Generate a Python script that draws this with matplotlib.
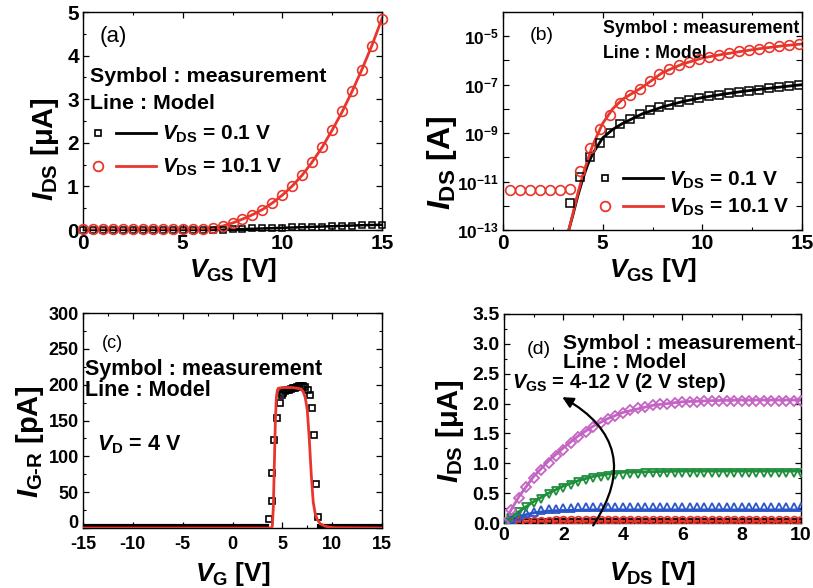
import matplotlib
matplotlib.use("Agg")
import matplotlib.pyplot as plt
import numpy as np
from matplotlib.lines import Line2D
from matplotlib.legend_handler import HandlerBase
from matplotlib.ticker import (MultipleLocator, FixedLocator, NullFormatter,
                               FormatStrFormatter)

plt.rcParams["font.family"] = ["Liberation Sans", "DejaVu Sans"]
plt.rcParams["font.weight"] = "bold"
plt.rcParams["axes.unicode_minus"] = False
plt.rcParams["mathtext.fontset"] = "custom"
plt.rcParams["mathtext.rm"] = "Liberation Sans:bold"
plt.rcParams["mathtext.it"] = "Liberation Sans:bold:italic"
plt.rcParams["mathtext.bf"] = "Liberation Sans:bold"

RED = "#e8362c"
BLUE = "#2b55c8"
GREEN = "#1f8f3c"
MAGENTA = "#c463c4"

# ---- (a) transfer curves, linear scale [uA] ----
vgs_a = [0, 0.5, 1, 1.5, 2, 2.5, 3, 3.5, 4, 4.5, 5, 5.5, 6, 6.5, 7, 7.5, 8,
         8.5, 9, 9.5, 10, 10.5, 11, 11.5, 12, 12.5, 13, 13.5, 14, 14.5, 15]
ids_a_hi_meas = [0.02, 0.02, 0.02, 0.02, 0.02, 0.02, 0.02, 0.02, 0.02, 0.02,
                 0.02, 0.02, 0.03, 0.05, 0.1, 0.17, 0.25, 0.35, 0.46, 0.61,
                 0.81, 1.02, 1.27, 1.57, 1.91, 2.3, 2.72, 3.18, 3.68, 4.23, 4.84]
ids_a_lo_meas = [0.0, 0.0, 0.0, 0.0, 0.0, 0.0, 0.0, 0.0, 0.0, 0.0, 0.0, 0.0,
                 0.0, 0.0, 0.01, 0.02, 0.03, 0.035, 0.04, 0.045, 0.05, 0.058,
                 0.065, 0.072, 0.08, 0.087, 0.093, 0.1, 0.107, 0.114, 0.12]
vgs_a_hi_model = [0, 6, 6.5, 7, 7.5, 8, 8.5, 9, 9.5, 10, 10.5, 11, 11.5, 12,
                  12.5, 13, 13.5, 14, 14.5, 15]
ids_a_hi_model = [0.0, 0.01, 0.04, 0.09, 0.16, 0.25, 0.35, 0.47, 0.62, 0.80,
                  1.01, 1.26, 1.56, 1.9, 2.29, 2.71, 3.18, 3.69, 4.24, 4.85]
vgs_a_lo_model = [0, 6.5, 7, 8, 9, 10, 11, 12, 13, 14, 15]
ids_a_lo_model = [0, 0.0, 0.005, 0.02, 0.035, 0.05, 0.065, 0.08, 0.095, 0.11, 0.12]

# ---- (b) transfer curves, log scale (log10 of I_DS in A) ----
vgs_b_hi = [0.35, 0.85, 1.35, 1.85, 2.35, 2.85, 3.35, 3.85, 4.35, 4.85, 5.35,
            5.85, 6.35, 6.85, 7.35, 7.85, 8.35, 8.85, 9.35, 9.85, 10.35,
            10.85, 11.35, 11.85, 12.35, 12.85, 13.35, 13.85, 14.35, 14.85]
log_ids_b_hi = [-11.34, -11.34, -11.34, -11.34, -11.34, -11.34, -11.3, -10.56,
                -9.62, -8.83, -8.24, -7.76, -7.44, -7.17, -6.85, -6.55, -6.35,
                -6.2, -6.05, -5.93, -5.85, -5.77, -5.7, -5.63, -5.57, -5.51,
                -5.46, -5.41, -5.37, -5.33]
vgs_b_lo = [3.35, 3.85, 4.35, 4.85, 5.35, 5.85, 6.35, 6.85, 7.35, 7.85, 8.35,
            8.85, 9.35, 9.85, 10.35, 10.85, 11.35, 11.85, 12.35, 12.85, 13.35,
            13.85, 14.35, 14.85]
log_ids_b_lo = [-11.9, -10.8, -9.97, -9.4, -9.0, -8.63, -8.4, -8.2, -8.05,
                -7.92, -7.82, -7.72, -7.63, -7.55, -7.48, -7.42, -7.36, -7.3,
                -7.25, -7.2, -7.15, -7.1, -7.06, -7.02]
vgs_b_model = [3.3, 3.5, 3.75, 4.0, 4.25, 4.5, 5.0, 5.5, 6.0, 7, 8, 9, 10, 11,
               12, 13, 14, 15]
log_ids_b_lo_model = [-13, -12.4, -11.6, -10.9, -10.3, -9.85, -9.2, -8.85,
                      -8.6, -8.2, -7.92, -7.7, -7.53, -7.4, -7.28, -7.18,
                      -7.09, -7.0]
log_ids_b_hi_model = [-13, -12.35, -11.5, -10.75, -10.1, -9.5, -8.6, -8.0,
                      -7.6, -7.1, -6.5, -6.15, -5.9, -5.75, -5.62, -5.5,
                      -5.4, -5.32]
b_tick_exp = [-13, -11, -9, -7, -5]

# ---- (c) G-R current [pA] ----
vg_c_base1 = [-15, -10, -5, 0, 3.5]
igr_c_base1 = [2.5, 2.5, 2.5, 2.5, 2.5]
vg_c_base2 = [8.7, 10, 15]
igr_c_base2 = [2.5, 2.5, 2.5]
vg_c_meas = [3.69, 3.92, 3.99, 4.19, 4.49, 4.76, 4.93, 5.1, 5.3, 5.5, 5.7,
             5.9, 6.1, 6.3, 6.5, 6.7, 6.9, 7.1, 7.3, 7.6, 7.77, 7.94, 8.17,
             8.37, 8.6]
igr_c_meas = [12, 38, 77, 123, 154, 174, 185, 189, 191, 192, 193, 194, 195,
              196, 197, 198, 198, 198, 197, 192, 185, 168, 130, 61, 16]
vg_c_model = [-15, 3.9, 4.0, 4.1, 4.2, 4.3, 4.4, 4.5, 4.6, 5.0, 6.0, 6.9,
              7.1, 7.3, 7.5, 7.7, 7.9, 8.1, 8.3, 8.5, 8.8, 9.2, 9.6, 10.2, 15]
igr_c_model = [0, 0, 3, 30, 90, 150, 182, 192, 195, 196, 196, 194, 190, 182,
               165, 125, 75, 36, 20, 12, 6, 3, 1.5, 0.5, 0]

# ---- (d) output curves [uA], VGS = 4..12 V ----
vds_d = [0, 0.25, 0.5, 0.75, 1, 1.25, 1.5, 1.75, 2, 2.25, 2.5, 2.75, 3, 3.25,
         3.5, 3.75, 4, 4.25, 4.5, 4.75, 5, 5.25, 5.5, 5.75, 6, 6.25, 6.5,
         6.75, 7, 7.25, 7.5, 7.75, 8, 8.25, 8.5, 8.75, 9, 9.25, 9.5, 9.75, 10]
ids_d_4 = [0.0, 0.0, 0.0, 0.0, 0.0, 0.0, 0.0, 0.0, 0.0, 0.0, 0.0, 0.0, 0.0,
           0.0, 0.0, 0.0, 0.0, 0.0, 0.0, 0.0, 0.0, 0.0, 0.0, 0.0, 0.0, 0.0,
           0.0, 0.0, 0.0, 0.0, 0.0, 0.0, 0.0, 0.0, 0.0, 0.0, 0.0, 0.0, 0.0,
           0.0, 0.0]
ids_d_6 = [0.0, 0.02, 0.03, 0.035, 0.04, 0.04, 0.04, 0.042, 0.042, 0.043,
           0.043, 0.044, 0.044, 0.044, 0.045, 0.045, 0.045, 0.045, 0.045,
           0.045, 0.045, 0.045, 0.045, 0.045, 0.045, 0.045, 0.045, 0.045,
           0.045, 0.045, 0.045, 0.045, 0.045, 0.045, 0.045, 0.045, 0.045,
           0.045, 0.045, 0.045, 0.045]
ids_d_8 = [0.0, 0.07, 0.12, 0.16, 0.19, 0.21, 0.23, 0.24, 0.25, 0.25, 0.26,
           0.26, 0.26, 0.26, 0.26, 0.26, 0.26, 0.26, 0.26, 0.26, 0.26, 0.26,
           0.26, 0.26, 0.26, 0.26, 0.26, 0.26, 0.26, 0.26, 0.26, 0.26, 0.26,
           0.26, 0.26, 0.26, 0.26, 0.26, 0.26, 0.26, 0.26]
ids_d_10 = [0.0, 0.09, 0.18, 0.26, 0.34, 0.41, 0.48, 0.54, 0.59, 0.64, 0.68,
            0.72, 0.75, 0.77, 0.79, 0.8, 0.81, 0.82, 0.82, 0.83, 0.83, 0.83,
            0.83, 0.83, 0.83, 0.83, 0.83, 0.83, 0.83, 0.83, 0.83, 0.83, 0.83,
            0.83, 0.83, 0.83, 0.83, 0.83, 0.83, 0.83, 0.83]
ids_d_12 = [0.0, 0.22, 0.42, 0.6, 0.75, 0.88, 1.0, 1.12, 1.23, 1.34, 1.44,
            1.53, 1.61, 1.68, 1.74, 1.8, 1.85, 1.89, 1.92, 1.95, 1.97, 1.99,
            2.0, 2.01, 2.02, 2.03, 2.03, 2.04, 2.04, 2.04, 2.05, 2.05, 2.05,
            2.05, 2.05, 2.05, 2.05, 2.05, 2.05, 2.05, 2.05]
vds_d_model = [0, 0.25, 0.5, 1, 1.5, 2, 2.5, 3, 3.5, 4, 5, 6, 7, 8, 10]
ids_d_4_model = [0, 0, 0, 0, 0, 0, 0, 0, 0, 0, 0, 0, 0, 0, 0]
ids_d_6_model = [0, 0.012, 0.02, 0.027, 0.029, 0.03, 0.03, 0.03, 0.03, 0.03,
                 0.03, 0.03, 0.03, 0.03, 0.03]
ids_d_8_model = [0, 0.06, 0.11, 0.17, 0.2, 0.21, 0.215, 0.22, 0.22, 0.22,
                 0.22, 0.22, 0.22, 0.22, 0.22]
ids_d_10_model = [0, 0.1, 0.19, 0.36, 0.5, 0.62, 0.71, 0.78, 0.82, 0.85,
                  0.86, 0.87, 0.87, 0.87, 0.87]
ids_d_12_model = [0, 0.23, 0.44, 0.78, 1.04, 1.26, 1.46, 1.62, 1.75, 1.85,
                  1.97, 2.03, 2.05, 2.06, 2.06]


class MarkerThenLine(HandlerBase):
    """Legend key: open symbol, gap, then model line."""
    def create_artists(self, legend, orig_handle, xdescent, ydescent,
                       width, height, fontsize, trans):
        mk, ln = orig_handle
        y = height / 2 - ydescent
        m = Line2D([-xdescent + 0.08 * width], [y], ls="none",
                   marker=mk.get_marker(), ms=mk.get_markersize(),
                   mfc="none", mec=mk.get_markeredgecolor(),
                   mew=mk.get_markeredgewidth())
        l = Line2D([-xdescent + 0.36 * width, -xdescent + width], [y, y],
                   color=ln.get_color(), lw=ln.get_linewidth())
        m.set_transform(trans)
        l.set_transform(trans)
        return [m, l]


def px_axes(fig, left, top, right, bottom):
    W, H = 813, 588
    return fig.add_axes([left / W, 1 - bottom / H, (right - left) / W,
                         (bottom - top) / H])


def style(ax, fs=14, xlab=None, ylab=None, xpos=-0.18, ypos=(-0.13, 0.4),
          yfs=21):
    ax.tick_params(which="both", direction="in", top=True, right=True,
                   labelsize=fs, pad=3)
    ax.tick_params(which="major", length=4, width=0.9)
    ax.tick_params(which="minor", length=2.5, width=0.8)
    for s in ax.spines.values():
        s.set_linewidth(1.0)
    ax.set_xlabel(xlab, fontsize=19, fontweight="bold")
    ax.set_ylabel(ylab, fontsize=yfs, fontweight="bold")
    ax.xaxis.set_label_coords(0.5, xpos)
    ax.yaxis.set_label_coords(*ypos)
    ax.xaxis.label.set_verticalalignment("center")
    ax.yaxis.label.set_verticalalignment("center")


def bold_ticks(ax):
    for axis in (ax.xaxis, ax.yaxis):
        for t in axis.get_major_ticks():
            t.label1.set_fontweight("heavy")
            t.label1.set_fontfamily("Liberation Sans")


def add_legend(ax, anchor, spacing, fs):
    sq = Line2D([], [], ls="none", marker="s", ms=5, mec="k", mew=1.2)
    ci = Line2D([], [], ls="none", marker="o", ms=7, mec=RED, mew=1.3)
    lk = Line2D([], [], color="k", lw=2)
    lr = Line2D([], [], color=RED, lw=2)
    ax.legend([(sq, lk), (ci, lr)],
              [r"$V_{\rm DS}$ = 0.1 V", r"$V_{\rm DS}$ = 10.1 V"],
              handler_map={tuple: MarkerThenLine()}, loc="center left",
              bbox_to_anchor=anchor, frameon=False, fontsize=fs,
              handlelength=3.0, handletextpad=0.3, labelspacing=spacing,
              borderpad=0, borderaxespad=0)


def txt(ax, x, y, s, fs, weight="bold"):
    ax.text(x, y, s, transform=ax.transAxes, fontsize=fs, fontweight=weight,
            va="center", ha="left")


fig = plt.figure(figsize=(8.13, 5.88), dpi=100)

# (a)
ax = px_axes(fig, 83, 12, 382, 230)
ax.plot(vgs_a, ids_a_lo_meas, ls="none", marker="s", ms=5, mfc="none",
        mec="k", mew=1.1, clip_on=False, zorder=3)
ax.plot(vgs_a_lo_model, ids_a_lo_model, color="k", lw=1.8, zorder=2)
ax.plot(vgs_a, ids_a_hi_meas, ls="none", marker="o", ms=7, mfc="none",
        mec=RED, mew=1.2, clip_on=False, zorder=3)
ax.plot(vgs_a_hi_model, ids_a_hi_model, color=RED, lw=2, zorder=2)
ax.set_xlim(0, 15)
ax.set_ylim(0, 5)
ax.xaxis.set_major_locator(MultipleLocator(5))
ax.xaxis.set_minor_locator(MultipleLocator(2.5))
ax.yaxis.set_major_locator(MultipleLocator(1))
ax.yaxis.set_minor_locator(MultipleLocator(0.5))
style(ax, 15, r"$V_{\rm GS}$ [V]", r"$I_{\rm DS}$ [μA]",
      xpos=-0.183, ypos=(-0.127, 0.37))
bold_ticks(ax)
txt(ax, 0.057, 0.887, "(a)", 16, "normal")
txt(ax, 0.023, 0.703, "Symbol : measurement", 15.4)
txt(ax, 0.023, 0.581, "Line : Model", 15.4)
add_legend(ax, (0.035, 0.362), 0.55, 15)

# (b)
ax = px_axes(fig, 503, 12, 802, 230)
ax.plot(vgs_b_lo, 10.0 ** np.array(log_ids_b_lo), ls="none", marker="s",
        ms=6, mfc="none", mec="k", mew=1.1, zorder=3)
ax.plot(vgs_b_model, 10.0 ** np.array(log_ids_b_lo_model), color="k", lw=2,
        zorder=2)
ax.plot(vgs_b_hi, 10.0 ** np.array(log_ids_b_hi), ls="none", marker="o",
        ms=7, mfc="none", mec=RED, mew=1.2, zorder=3)
ax.plot(vgs_b_model, 10.0 ** np.array(log_ids_b_hi_model), color=RED, lw=2,
        zorder=2)
ax.set_yscale("log")
ax.set_xlim(0, 15)
ax.set_ylim(1e-13, 1e-4)
ax.xaxis.set_major_locator(MultipleLocator(5))
ax.xaxis.set_minor_locator(MultipleLocator(2.5))
ax.yaxis.set_major_locator(FixedLocator([10.0 ** e for e in b_tick_exp]))
ax.yaxis.set_minor_locator(FixedLocator([1e-12, 1e-10, 1e-8, 1e-6, 1e-4]))
ax.yaxis.set_minor_formatter(NullFormatter())
ax.set_yticklabels([r"$\mathbf{10^{%d}}$" % e for e in b_tick_exp])
style(ax, 15, r"$V_{\rm GS}$ [V]", r"$I_{\rm DS}$ [A]",
      xpos=-0.183, ypos=(-0.204, 0.31), yfs=23)
bold_ticks(ax)
ax.tick_params(axis="y", labelsize=12.5)
ax.tick_params(axis="y", which="minor", length=4)
txt(ax, 0.09, 0.894, "(b)", 14, "normal")
txt(ax, 0.334, 0.925, "Symbol : measurement", 12.8)
txt(ax, 0.334, 0.81, "Line : Model", 12.8)
add_legend(ax, (0.325, 0.165), 0.3, 15)

# (c)
ax_c = ax = px_axes(fig, 83, 313, 382, 528)
ax.plot(vg_c_base1, igr_c_base1, color="k", lw=3, zorder=2)
ax.plot(vg_c_base2, igr_c_base2, color="k", lw=3, zorder=2)
ax.plot(vg_c_meas, igr_c_meas, ls="none", marker="s", ms=5, mfc="none",
        mec="k", mew=1.2, zorder=3)
ax.plot(vg_c_model, igr_c_model, color=RED, lw=2, zorder=4)
ax.set_xlim(-15, 15)
ax.set_ylim(0, 300)
ax.xaxis.set_major_locator(MultipleLocator(5))
ax.xaxis.set_minor_locator(MultipleLocator(2.5))
ax.yaxis.set_major_locator(MultipleLocator(50))
ax.yaxis.set_minor_locator(MultipleLocator(25))
style(ax, 13, r"$V_{\rm G}$ [V]", r"$I_{\rm G\text{-}R}$ [pA]",
      xpos=-0.212, ypos=(-0.177, 0.4))
bold_ticks(ax)
ax.tick_params(axis="x", pad=6)
txt(ax, 0.063, 0.859, "(c)", 13, "normal")
txt(ax, 0.008, 0.735, "Symbol : measurement", 15.5)
txt(ax, 0.008, 0.638, "Line : Model", 15.5)
txt(ax, 0.046, 0.386, r"$V_{\rm D}$ = 4 V", 15.5)

# (d)
ax = px_axes(fig, 504, 314, 801, 523)
series = [(ids_d_4, ids_d_4_model, "k", "s", 5.5),
          (ids_d_6, ids_d_6_model, RED, "o", 5.5),
          (ids_d_8, ids_d_8_model, BLUE, "^", 6),
          (ids_d_10, ids_d_10_model, GREEN, "v", 6),
          (ids_d_12, ids_d_12_model, MAGENTA, "D", 5.2)]
for meas, model, col, mk, size in series:
    ax.plot(vds_d_model, model, color=col, lw=2, zorder=2)
    ax.plot(vds_d, meas, ls="none", marker=mk, ms=size, mfc="none",
            mec=col, mew=1.3, zorder=3)
ax.set_xlim(0, 10)
ax.set_ylim(0, 3.5)
ax.xaxis.set_major_locator(MultipleLocator(2))
ax.xaxis.set_minor_locator(MultipleLocator(1))
ax.yaxis.set_major_locator(MultipleLocator(0.5))
ax.yaxis.set_minor_locator(MultipleLocator(0.25))
ax.yaxis.set_major_formatter(FormatStrFormatter("%.1f"))
style(ax, 14, r"$V_{\rm DS}$ [V]", r"$I_{\rm DS}$ [μA]",
      xpos=-0.239, ypos=(-0.182, 0.44))
bold_ticks(ax)
ax.annotate("", xy=(1.88, 2.13), xytext=(2.95, -0.08),
            arrowprops=dict(arrowstyle="-|>", color="k", lw=1.6,
                            connectionstyle="arc3,rad=0.55",
                            mutation_scale=16),
            annotation_clip=False, zorder=5)
txt(ax, 0.077, 0.828, "(d)", 14, "normal")
txt(ax, 0.2, 0.858, "Symbol : measurement", 15.2)
txt(ax, 0.2, 0.766, "Line : Model", 15.2)
txt(ax, 0.026, 0.674, r"$V_{\rm GS}$ = 4-12 V (2 V step)", 14.5)

# lift the "0" of panel (c) a little so it clears the "-15" below it
fig.canvas.draw()
for t in ax_c.yaxis.get_major_ticks():
    if t.get_loc() == 0:
        t.label1.set_verticalalignment("baseline")

fig.savefig("out.png", dpi=100)
